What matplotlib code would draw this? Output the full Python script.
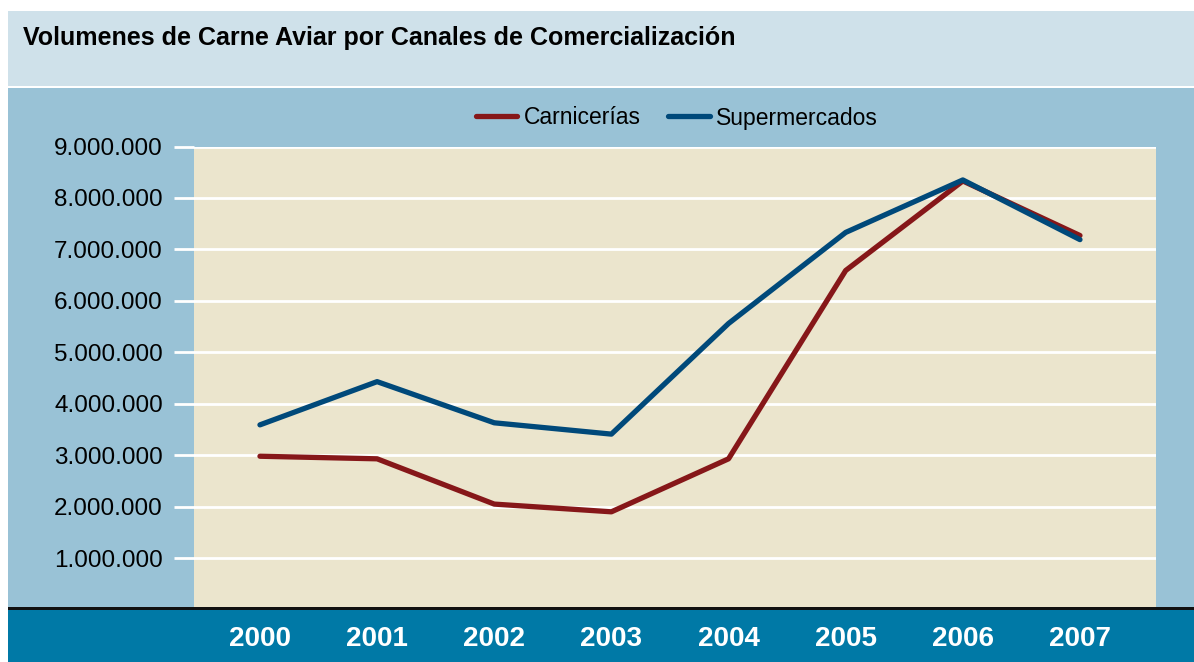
import matplotlib.pyplot as plt
from matplotlib.patches import Rectangle

# Datos
anios = ['2000', '2001', '2002', '2003', '2004', '2005', '2006', '2007']
carnicerias = [2980000, 2930000, 2050000, 1900000, 2930000, 6590000, 8330000, 7270000]
supermercados = [3590000, 4430000, 3630000, 3410000, 5560000, 7330000, 8350000, 7190000]
marcas_y = [1000000, 2000000, 3000000, 4000000, 5000000, 6000000, 7000000, 8000000, 9000000]

W, H = 1194, 662
plt.rcParams['font.family'] = ['Liberation Sans', 'DejaVu Sans']

fig = plt.figure(figsize=(W / 100, H / 100), dpi=100)
fig.patch.set_facecolor('white')

def banda(x0, y0, x1, y1, color):
    # rectángulo en píxeles (origen arriba a la izquierda)
    fig.patches.append(Rectangle((x0 / W, 1 - y1 / H), (x1 - x0) / W, (y1 - y0) / H,
                                 transform=fig.transFigure, facecolor=color,
                                 edgecolor='none', zorder=-1))

banda(8, 11, W, 86, '#cfe1ea')      # franja del título
banda(8, 88, W, 607, '#99c2d6')     # panel azul
banda(8, 607, W, 609.5, '#111111')  # línea negra
banda(8, 609.5, W, H, '#0079a6')    # franja de años

fig.text(23 / W, 1 - 38 / H, 'Volumenes de Carne Aviar por Canales de Comercialización',
         fontsize=18, fontweight='bold', va='center', ha='left', color='black')

ax = fig.add_axes([194 / W, 1 - 607 / H, (1156 - 194) / W, (607 - 146.5) / H])
ax.set_zorder(2)
ax.set_facecolor('#ebe5cd')
x = list(range(len(anios)))
ax.plot(x, carnicerias, color='#861719', lw=3.8, label='Carnicerías', solid_capstyle='round')
ax.plot(x, supermercados, color='#00497a', lw=3.8, label='Supermercados', solid_capstyle='round')

ax.set_xlim(-0.563, 7.649)
ax.set_ylim(50000, 9000000)
ax.set_yticks(marcas_y)
ax.set_yticklabels([f'{v:,}'.replace(',', '.') for v in marcas_y], fontsize=17.5)
ax.grid(axis='y', color='white', lw=2)
ax.set_axisbelow(True)
ax.tick_params(axis='y', length=14.4, width=2, color='white', pad=8)
ax.set_xticks(x)
ax.set_xticklabels(anios, fontsize=20, fontweight='bold', color='white')
ax.tick_params(axis='x', length=0, pad=14)
for s in ax.spines.values():
    s.set_visible(False)

fig.legend(loc='center', bbox_to_anchor=(677 / W, 1 - 118 / H), ncol=2, frameon=False,
           fontsize=16.5, handlelength=1.8, handletextpad=0.3, columnspacing=1.2)

fig.savefig('out.png', dpi=100, facecolor=fig.get_facecolor())
